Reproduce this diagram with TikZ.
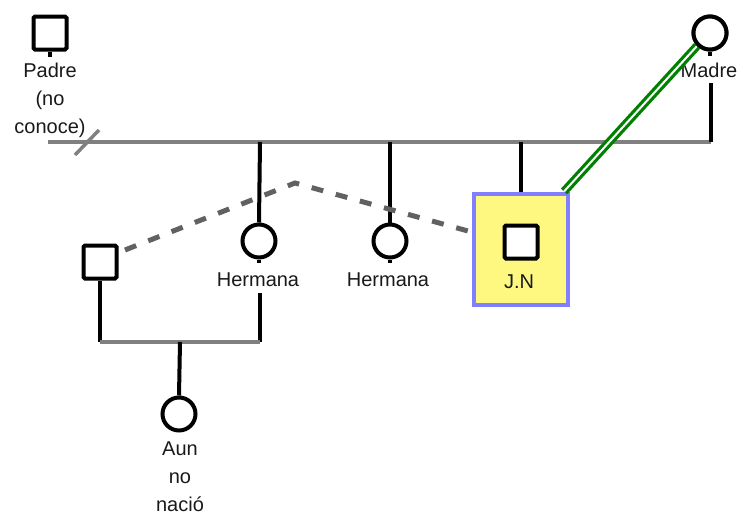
\documentclass[tikz,border=0pt]{standalone}
\usepackage{fontspec}
\setmainfont{Liberation Sans}
\begin{document}
\begin{tikzpicture}[x=1pt,y=-1pt,
  sq/.style={draw=black,line width=4pt,minimum size=33pt,inner sep=0pt,fill=white,rounded corners=1.5pt},
  circ/.style={circle,draw=black,line width=4pt,minimum size=33pt,inner sep=0pt,fill=white},
  lbl/.style={font=\fontsize{20}{28}\selectfont,align=center,inner sep=0pt,text=black!90},
  blk/.style={line width=4pt,black},
  gry/.style={line width=4.5pt,color=black!50},
  dsh/.style={line width=5pt,color=black!62,dash pattern=on 12pt off 13pt},
  grn/.style={line width=3.2pt,color=green!50!black,double=white,double distance=2pt},
  idbox/.style={draw=blue!50,fill=yellow!50,line width=4pt,minimum width=94pt,minimum height=111pt,inner sep=0pt}
]
\useasboundingbox (0,0) rectangle (739,514);

% coordinates of the sibship line
\coordinate (tl) at (48,142);
\coordinate (tr) at (711,142);
\coordinate (c1) at (260,142);
\coordinate (c2) at (390,142);
\coordinate (c3) at (521,142);
\coordinate (s1) at (75,155);
\coordinate (s2) at (99,130);
\coordinate (madrebot) at (711,83);

% lower family
\coordinate (bl) at (100,342);
\coordinate (br) at (260,342);
\coordinate (bc) at (180,342);
\coordinate (h1bot) at (260,293);

% dashed relation
\coordinate (d1) at (125,250);
\coordinate (d2) at (295,183);
\coordinate (d3) at (468,231);

% index box
\node[idbox] (jnbox) at (521,249) {};

% nodes
\node[sq] (padre) at (50,33) {};
\node[lbl] (padrelbl) at (50,100) {Padre\\(no\\conoce)};
\node[circ] (madre) at (710,33) {};
\node[lbl] (madrelbl) at (709,70) {Madre};
\node[circ] (h1) at (259,241) {};
\node[lbl] (h1lbl) at (258,280) {Hermana};
\node[circ] (h2) at (390,241) {};
\node[lbl] (h2lbl) at (388,280) {Hermana};
\node[sq] (jn) at (521,242) {};
\node[lbl] (jnlbl) at (519,282) {J.N};
\node[sq] (lsq) at (100,262) {};
\node[circ] (aun) at (179,414) {};
\node[lbl] (aunlbl) at (180,477) {Aun\\no\\naci\'o};

% stubs
\coordinate (padrestub) at (50,57);
\coordinate (madrestub) at (710,56);
\coordinate (h1stub) at (259,263);
\coordinate (h2stub) at (390,263);
\draw[blk] (padre.south) -- (padrestub);
\draw[blk] (madre.south) -- (madrestub);
\draw[blk] (h1.south) -- (h1stub);
\draw[blk] (h2.south) -- (h2stub);

% connectors
\draw[gry] (tl) -- (tr);
\draw[gry,line width=3.5pt] (s1) -- (s2);
\draw[blk] (madrebot) -- (tr);
\draw[blk] (c1) -- (h1.north);
\draw[blk] (c2) -- (h2.north);
\draw[blk] (c3) -- (jnbox.north);
\draw[blk] (lsq.south) -- (bl);
\draw[blk] (h1bot) -- (br);
\draw[gry] (bl) -- (br);
\draw[blk] (bc) -- (aun.north);
\draw[dsh] (d1) -- (d2) -- (d3);
\draw[grn] (madre.225) -- ([xshift=-6pt]jnbox.north east);

% redraw nodes on top
\node[circ] at (madre) {};
\end{tikzpicture}
\end{document}
